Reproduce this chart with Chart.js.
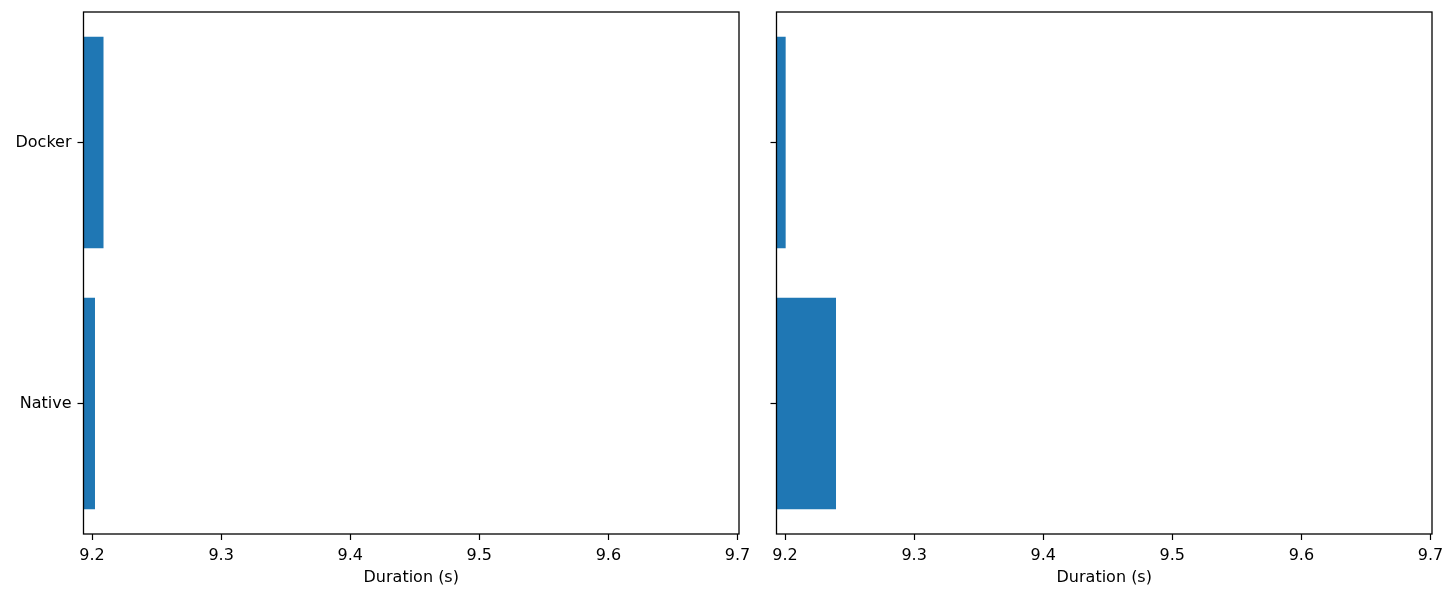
<!DOCTYPE html>
<html>
<head>
<meta charset="utf-8">
<script src="https://cdn.jsdelivr.net/npm/chart.js@4"></script>
<style>
  body { margin: 0; background: #fff; }
  #wrap { position: relative; width: 1456px; height: 598px; }
  .pane { position: absolute; top: 0; height: 598px; }
</style>
</head>
<body>
<div id="wrap">
  <div class="pane" style="left:0;width:760px"><canvas id="left"></canvas></div>
  <div class="pane" style="left:760px;width:696px"><canvas id="right"></canvas></div>
</div>
<script>
const categories = ['Docker', 'Native'];
const leftValues = [9.2089, 9.2023];
const rightValues = [9.2005, 9.2395];
const xTicks = [9.2, 9.3, 9.4, 9.5, 9.6, 9.7];
const xMin = 9.1934, xMax = 9.7012;

const font = { family: 'DejaVu Sans', size: 16 };

// draws the full black box around the plot area, like matplotlib
const framePlugin = {
  id: 'frame',
  afterDraw(chart) {
    const a = chart.chartArea, ctx = chart.ctx;
    ctx.save();
    ctx.strokeStyle = '#000';
    ctx.lineWidth = 1.3;
    ctx.strokeRect(a.left, a.top, a.right - a.left, a.bottom - a.top);
    ctx.restore();
  }
};

function makeChart(id, values, yWidth, padRight, showLabels) {
  return new Chart(document.getElementById(id), {
    type: 'bar',
    data: {
      labels: categories,
      datasets: [{
        data: values.map(v => [xMin, v]),
        backgroundColor: '#1f77b4',
        borderColor: '#1f77b4',
        borderWidth: 0,
        barPercentage: 0.81,
        categoryPercentage: 1.0
      }]
    },
    options: {
      indexAxis: 'y',
      responsive: true,
      maintainAspectRatio: false,
      animation: false,
      layout: { padding: { top: 12, right: padRight, left: 0, bottom: 11 } },
      plugins: { legend: { display: false }, tooltip: { enabled: false } },
      scales: {
        x: {
          min: xMin,
          max: xMax,
          afterBuildTicks(axis) { axis.ticks = xTicks.map(v => ({ value: v })); },
          afterFit(axis) { axis.height = 53; },
          border: { display: false },
          grid: { drawOnChartArea: false, tickLength: 6, tickColor: '#000', tickWidth: 1.2 },
          ticks: { color: '#000', font: font, padding: 6, maxRotation: 0,
                   callback: v => v.toFixed(1) },
          title: { display: true, text: 'Duration (s)', color: '#000', font: font,
                   padding: { top: 2, bottom: 0 } }
        },
        y: {
          afterFit(axis) {
            axis.width = yWidth;
            axis.paddingTop = 0;
            axis.paddingBottom = 0;
          },
          border: { display: false },
          grid: { drawOnChartArea: false, offset: false, tickLength: 6, tickColor: '#000', tickWidth: 1.2 },
          ticks: { color: '#000', font: font, padding: 6,
                   callback(v) { return showLabels ? categories[v] : ''; } }
        }
      }
    },
    plugins: [framePlugin]
  });
}

makeChart('left', leftValues, 83.5, 21, true);
makeChart('right', rightValues, 16.5, 24, false);
</script>
</body>
</html>
